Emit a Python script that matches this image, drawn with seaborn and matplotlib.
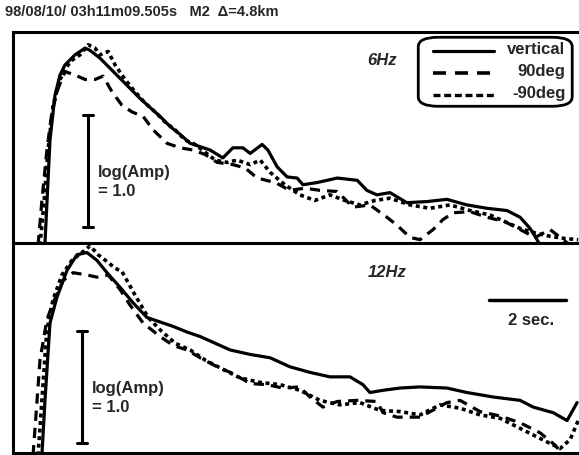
import numpy as np
import pandas as pd
import seaborn as sns
import matplotlib.pyplot as plt
from matplotlib.patches import FancyBboxPatch

# time in seconds, amplitude in log units above the panel floor
t_6hz_vert = [0.83, 0.96, 1.09, 1.22, 1.35, 1.61, 1.87, 2.00, 2.26, 2.52, 2.78, 3.04, 3.30, 3.56,
              3.82, 4.08, 4.34, 4.60, 4.86, 5.12, 5.45, 5.71, 5.97, 6.16, 6.47, 6.62, 6.86, 7.12,
              7.38, 7.53, 7.90, 8.42, 8.94, 9.19, 9.45, 9.79, 10.23, 10.75, 11.27, 11.79, 12.31,
              12.83, 13.17, 13.43, 13.61, 13.69]
a_6hz_vert = [0.00, 0.92, 1.32, 1.50, 1.59, 1.68, 1.74, 1.72, 1.65, 1.56, 1.47, 1.38, 1.29, 1.21,
              1.13, 1.04, 0.97, 0.89, 0.86, 0.83, 0.76, 0.85, 0.85, 0.80, 0.88, 0.83, 0.68, 0.59,
              0.58, 0.52, 0.54, 0.58, 0.56, 0.47, 0.43, 0.45, 0.36, 0.37, 0.39, 0.34, 0.31,
              0.29, 0.23, 0.13, 0.03, -0.02]

t_6hz_p90 = [0.65, 0.75, 0.88, 1.01, 1.17, 1.35, 1.61, 1.87, 2.13, 2.34, 2.57, 2.83, 3.09, 3.38,
             3.64, 4.00, 4.34, 4.68, 4.99, 5.30, 5.71, 6.03, 6.34, 6.81, 7.19, 7.58, 7.97, 8.42,
             8.83, 9.27, 9.71, 9.97, 10.31, 10.57, 10.91, 11.17, 11.43, 11.87, 12.31, 12.78,
             13.17, 13.56, 13.95, 14.29, 14.47]
a_6hz_p90 = [-0.02, 0.38, 0.83, 1.17, 1.38, 1.53, 1.50, 1.46, 1.46, 1.49, 1.35, 1.23, 1.17, 1.13,
             1.01, 0.89, 0.85, 0.83, 0.79, 0.72, 0.70, 0.67, 0.58, 0.54, 0.47, 0.49, 0.47, 0.46,
             0.32, 0.34, 0.23, 0.16, 0.05, 0.03, 0.12, 0.21, 0.27, 0.28, 0.23, 0.19,
             0.12, 0.05, 0.12, 0.03, -0.02]

t_6hz_m90 = [0.70, 0.81, 0.91, 1.04, 1.22, 1.48, 1.74, 1.95, 2.13, 2.26, 2.47, 2.65, 2.91, 3.17,
             3.43, 3.69, 3.95, 4.21, 4.47, 4.73, 4.99, 5.25, 5.56, 5.82, 6.16, 6.42, 6.68, 7.06,
             7.45, 7.84, 8.23, 8.62, 9.01, 9.40, 9.79, 10.31, 10.83, 11.35, 11.87, 12.39, 12.78,
             13.17, 13.56, 13.95, 14.34, 14.68]
a_6hz_m90 = [-0.02, 0.38, 0.83, 1.23, 1.46, 1.62, 1.68, 1.77, 1.74, 1.68, 1.71, 1.59, 1.46, 1.35,
             1.25, 1.17, 1.08, 1.01, 0.92, 0.88, 0.81, 0.74, 0.72, 0.74, 0.70, 0.74, 0.63, 0.52,
             0.43, 0.38, 0.43, 0.38, 0.34, 0.38, 0.40, 0.34, 0.31, 0.34, 0.29, 0.25, 0.19,
             0.13, 0.09, 0.06, 0.04, 0.03]

t_12hz_vert = [0.75, 0.83, 0.96, 1.14, 1.40, 1.66, 1.92, 2.18, 2.44, 2.78, 3.12, 3.48, 3.82, 4.16,
               4.52, 4.86, 5.25, 5.64, 6.16, 6.68, 7.19, 7.71, 8.23, 8.75, 9.09, 9.27, 9.61,
               10.05, 10.57, 11.27, 11.79, 12.47, 13.17, 13.51, 14.03, 14.39, 14.65]
a_12hz_vert = [-0.02, 0.47, 1.16, 1.39, 1.63, 1.77, 1.79, 1.72, 1.61, 1.48, 1.34, 1.21, 1.17, 1.13,
               1.08, 1.04, 0.98, 0.92, 0.88, 0.85, 0.77, 0.72, 0.68, 0.68, 0.61, 0.54, 0.56,
               0.58, 0.59, 0.58, 0.54, 0.50, 0.47, 0.41, 0.36, 0.29, 0.45]

t_12hz_p90 = [0.52, 0.62, 0.70, 0.88, 1.04, 1.30, 1.56, 1.92, 2.18, 2.47, 2.78, 3.04, 3.38, 3.82,
              4.16, 4.52, 4.86, 5.30, 5.71, 6.16, 6.60, 7.01, 7.45, 7.71, 8.05, 8.42, 8.94, 9.45,
              9.61, 9.97, 10.57, 11.27, 11.61, 12.13, 12.65, 13.17, 13.69, 14.08, 14.29]
a_12hz_p90 = [-0.02, 0.45, 0.83, 1.19, 1.34, 1.54, 1.61, 1.59, 1.57, 1.59, 1.46, 1.32, 1.16, 1.04,
              0.96, 0.92, 0.85, 0.77, 0.71, 0.62, 0.61, 0.58, 0.59, 0.50, 0.41, 0.46, 0.47, 0.46,
              0.36, 0.32, 0.32, 0.45, 0.47, 0.37, 0.33, 0.27, 0.18, 0.07, -0.02]

t_12hz_m90 = [0.65, 0.75, 0.88, 1.04, 1.27, 1.53, 1.79, 2.00, 2.21, 2.44, 2.65, 2.83, 3.17, 3.51,
              3.82, 4.21, 4.60, 4.99, 5.38, 5.90, 6.42, 6.94, 7.45, 7.97, 8.49, 9.01, 9.53,
              10.05, 10.57, 11.09, 11.61, 12.13, 12.65, 13.17, 13.69, 14.21, 14.47, 14.68]
a_12hz_m90 = [-0.02, 0.47, 1.10, 1.37, 1.59, 1.72, 1.79, 1.85, 1.77, 1.71, 1.65, 1.62, 1.41, 1.21,
              1.10, 0.98, 0.92, 0.83, 0.76, 0.67, 0.63, 0.61, 0.56, 0.47, 0.43, 0.45, 0.38,
              0.37, 0.34, 0.43, 0.40, 0.34, 0.31, 0.22, 0.13, 0.04, 0.12, 0.29]

labels = ['vertical', '90deg', '-90deg']
amp_scale = 1.0   # log(Amp) bar
time_scale = 2.0  # seconds bar
title = '98/08/10/ 03h11m09.505s   M2  \u0394=4.8km'

sns.set_style('white')
plt.rcParams['font.family'] = ['Liberation Sans', 'DejaVu Sans']
FS = 12

fig = plt.figure(figsize=(5.79, 4.55), dpi=100)
ax1 = fig.add_axes([0.0225, 0.4659, 0.9775, 0.4638])
ax2 = fig.add_axes([0.0225, 0.0044, 0.9775, 0.4615])

styles = [dict(linestyle='-', lw=2.3),
          dict(linestyle=(0, (3.2, 2.2)), lw=2.3),
          dict(linestyle=(0, (1.1, 1.0)), lw=2.6)]
legend_styles = [dict(linestyle='-', lw=2.3),
                 dict(linestyle=(0, (3.6, 2.5)), lw=2.6),
                 dict(linestyle=(0, (2.1, 1.1)), lw=2.4)]

panels = [
    (ax1, [(t_6hz_vert, a_6hz_vert), (t_6hz_p90, a_6hz_p90), (t_6hz_m90, a_6hz_m90)]),
    (ax2, [(t_12hz_vert, a_12hz_vert), (t_12hz_p90, a_12hz_p90), (t_12hz_m90, a_12hz_m90)]),
]

for ax, series in panels:
    for (t, a), st in zip(series, styles):
        df = pd.DataFrame({'t': t, 'a': a})
        sns.lineplot(data=df, x='t', y='a', ax=ax, color='black', sort=False,
                     estimator=None, legend=False, **st)
    ax.set_xlim(0, 14.7)
    ax.set_xticks([])
    ax.set_yticks([])
    ax.set_xlabel('')
    ax.set_ylabel('')
    for side in ['left', 'top', 'bottom']:
        ax.spines[side].set_linewidth(2.2)
        ax.spines[side].set_color('black')
    ax.spines['right'].set_visible(False)

ax1.set_ylim(0, 1.884)
ax2.set_ylim(0, 1.875)

# legend box, handles left, labels right-aligned
box = FancyBboxPatch((0.716, 0.648), 0.272, 0.327, transform=ax1.transAxes,
                     boxstyle='round,pad=0,rounding_size=0.035', fc='white',
                     ec='black', lw=2.0, zorder=5, mutation_aspect=1.3)
ax1.add_patch(box)
for i, (lab, st) in enumerate(zip(labels, legend_styles)):
    yy = 0.912 - i * 0.105
    ax1.plot([0.742, 0.850], [yy, yy], transform=ax1.transAxes, color='black',
             zorder=6, **st)
    ax1.text(0.976, yy + 0.005, lab, transform=ax1.transAxes, ha='right', va='center',
             fontsize=FS, fontweight='bold', zorder=6)

# frequency labels
ax1.text(9.2, 1.63, '6Hz', style='italic', fontweight='bold', fontsize=FS, va='center')
ax2.text(9.2, 1.61, '12Hz', style='italic', fontweight='bold', fontsize=FS, va='center')

# amplitude scale bars
for ax, tx, a0 in [(ax1, 1.95, 0.145), (ax2, 1.79, 0.09)]:
    ax.plot([tx, tx], [a0, a0 + amp_scale], color='black', lw=2.2)
    for yy in [a0, a0 + amp_scale]:
        ax.plot([tx - 0.13, tx + 0.13], [yy, yy], color='black', lw=2.2)
    ax.text(tx + 0.25, a0 + 0.4, 'log(Amp)\n= 1.0', fontsize=FS, fontweight='bold',
            va='center', ha='left', linespacing=1.35)

# time scale bar
ax2.plot([12.35, 12.35 + time_scale], [1.37, 1.37], color='black', lw=2.5)
ax2.text(12.35 + time_scale / 2 + 0.1, 1.18, '2 sec.', fontsize=FS, fontweight='bold',
         ha='center', va='center')

fig.text(0.008, 0.973, title, fontsize=10.5, fontweight='bold', ha='left', va='center')

fig.savefig('out.png', dpi=100)
